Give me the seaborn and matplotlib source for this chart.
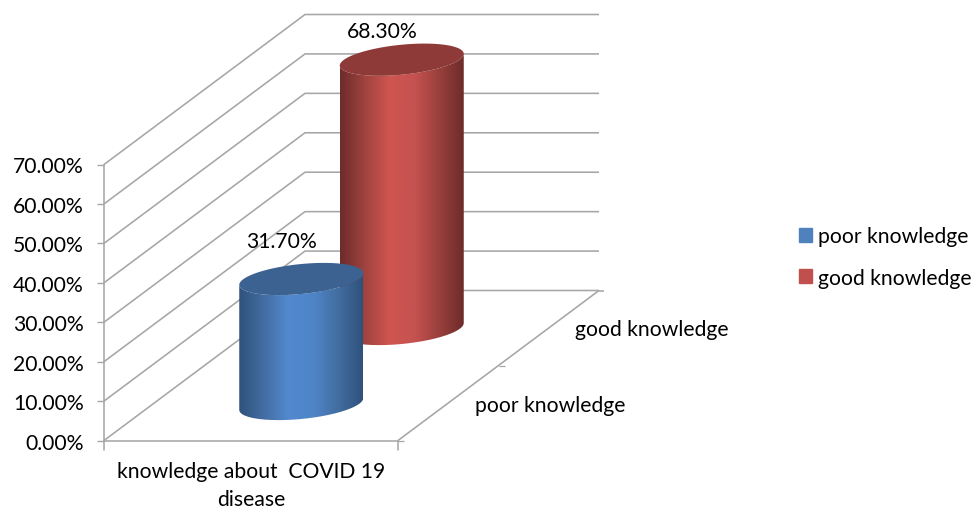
import numpy as np
import pandas as pd
import matplotlib
matplotlib.use("Agg")
import matplotlib.pyplot as plt
from matplotlib.patches import PathPatch, Patch
from matplotlib.path import Path
import seaborn as sns

metric = ["knowledge about  COVID 19\ndisease"]
series = ["poor knowledge", "good knowledge"]
values = [31.7, 68.3]
value_labels = ["31.70%", "68.30%"]
yticks = [0, 10, 20, 30, 40, 50, 60, 70]
legend_colors = ["#4f81bd", "#c0504d"]
top_colors = ["#3c6291", "#8e3a38"]
ramps = [
    ["#2f527c", "#446da2", "#5289cf", "#4f85c8", "#426ea1", "#2f527c"],
    ["#6c2c2a", "#a0433f", "#cf5550", "#c65250", "#9a3f3c", "#6c2c2a"],
]

W, H = 974, 510
sns.set_theme(style="white")
plt.rcParams["font.family"] = ["Lato", "DejaVu Sans"]
FS = 15.2
GRID = "#a6a6a6"

fig = plt.figure(figsize=(W / 100, H / 100), dpi=100)
L, R, T, B = 104, 398, 165.5, 441.5
ax = fig.add_axes([L / W, 1 - B / H, (R - L) / W, (B - T) / H])

df = pd.DataFrame({"metric": metric * len(series), "kind": series, "value": values})
sns.barplot(data=df, x="metric", y="value", hue="kind", dodge=False, width=124 / 294,
            palette=legend_colors, legend=False, ax=ax)

XMIN, XMAX, YMAX = -0.5, 0.5, 70
sx = 294.0                 # px per x unit
sy = (B - T) / YMAX        # px per value unit
DX, DY = 201 / sx, 150 / sy  # full depth in data units


def proj(x, v, d):
    return x + d * DX, v + d * DY


def line(xs, vs, ds, lw=1.15):
    px, py = proj(np.array(xs), np.array(vs), np.array(ds))
    ax.plot(px, py, color=GRID, lw=lw, clip_on=False, zorder=1, solid_capstyle="butt")


# walls and floor
for v in yticks:
    line([XMIN, XMIN, XMAX], [v, v, v], [0, 1, 1])
line([XMAX, XMAX], [0, 0], [0, 1])
line([XMAX, XMAX + 5 / sx], [0, 0], [1, 1])
line([XMAX, XMAX + 6 / sx], [0, 0], [0.5, 0.5], lw=0.9)
line([XMAX, XMAX + 6 / sx], [0, 0], [0, 0], lw=0.9)
for xe in (XMIN, XMAX):
    ax.plot([xe, xe], [0, -9 / sy], color=GRID, lw=1.15, clip_on=False, zorder=1)

# cylinders
depths = [0.25, 0.75]
label_gaps = [28, 19]
a_px, b_px, tilt = 62.0, 15.0, 0.095
order = [1, 0]
for i in order:
    bar = ax.containers[i][0]
    w, h = bar.get_width(), bar.get_height()
    xc = bar.get_x() + w / 2
    bar.set_visible(False)
    cx, base = proj(xc, -1 / sy, depths[i])
    a = w / 2
    t = np.linspace(0, np.pi, 80)

    def ell(center, tt):
        ex = cx + a * np.cos(tt)
        ey = center + (tilt * a_px * np.cos(tt) + b_px * np.sin(tt) * -1) / sy
        return ex, ey

    bx, by = ell(base, t)[0][::-1], ell(base, t)[1][::-1]     # lower arc left to right
    tx, ty = ell(base + h, t)                                 # lower arc of top, right to left
    verts = np.column_stack([np.r_[bx, tx], np.r_[by, ty]])
    verts = np.r_[verts, verts[:1]]
    clip = PathPatch(Path(verts), transform=ax.transData, fc="none", ec="none")
    cmap = sns.blend_palette(ramps[i], as_cmap=True)
    grad = np.linspace(0, 1, 256).reshape(1, -1)
    im = ax.imshow(grad, cmap=cmap, aspect="auto", origin="lower",
                   extent=(cx - a, cx + a, base - 30 / sy, base + h + 30 / sy),
                   zorder=3 + (1 - i) * 3, interpolation="bilinear")
    im.set_clip_path(clip)
    im.set_clip_box(fig.bbox)
    tt = np.linspace(0, 2 * np.pi, 160)
    ex, ey = ell(base + h, tt)
    ax.fill(ex, ey, color=top_colors[i], lw=0, clip_on=False, zorder=4 + (1 - i) * 3)
    ax.text(cx - 20 / sx, base + h + label_gaps[i] / sy, value_labels[i], ha="center", va="bottom",
            fontsize=FS, color="black", zorder=8, clip_on=False)

# axes
ax.set_xlim(XMIN, XMAX)
ax.set_ylim(0, YMAX)
ax.set_xlabel("")
ax.set_ylabel("")
ax.set_yticks(yticks)
ax.set_yticklabels([f"{v:.2f}%" for v in yticks], fontsize=FS, color="black")
ax.set_xticks([0])
ax.set_xticklabels(metric, fontsize=FS, color="black", linespacing=1.5)
ax.tick_params(axis="x", length=0, pad=15)
ax.tick_params(axis="y", length=5, width=1.0, color=GRID, pad=9.5, left=True)
sns.despine(ax=ax, top=True, right=True)
for s in ("left", "bottom"):
    ax.spines[s].set_color(GRID)
    ax.spines[s].set_linewidth(1.15)
ax.patch.set_alpha(0)

# depth labels
fig.text(652 / W, 1 - 330 / H, series[1], ha="center", va="center", fontsize=FS, color="black")
fig.text(550 / W, 1 - 406 / H, series[0], ha="center", va="center", fontsize=FS, color="black")

# legend
handles = [Patch(color=c, label=s) for c, s in zip(legend_colors, series)]
fig.legend(handles=handles, loc="upper left", bbox_to_anchor=(795 / W, 1 - 223 / H),
           frameon=False, fontsize=FS, handlelength=0.62, handleheight=0.62,
           handletextpad=0.28, labelspacing=1.02, borderpad=0.2, labelcolor="black",
           borderaxespad=0)

fig.savefig("out.png", dpi=100)
